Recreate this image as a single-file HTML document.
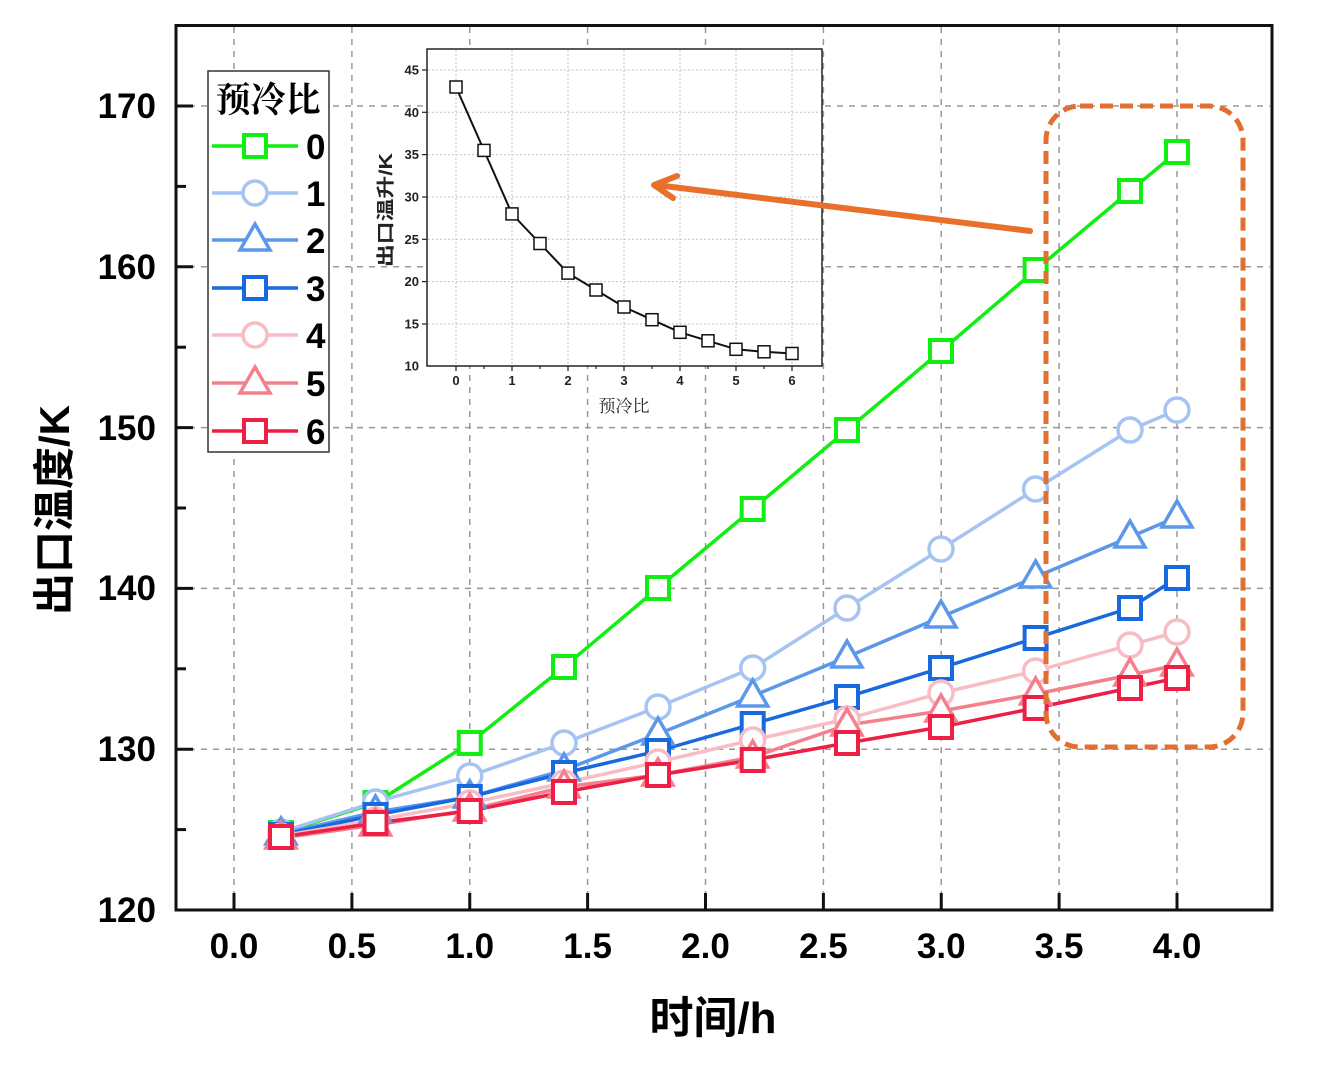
<!DOCTYPE html>
<html><head><meta charset="utf-8"><style>
html,body{margin:0;padding:0;background:#fff;}
svg{display:block;}
.b{font-family:"Liberation Sans","Noto Sans CJK SC",sans-serif;font-weight:bold;}
.s{font-family:"Liberation Serif","Noto Serif CJK SC",serif;}
</style></head><body>
<svg width="1330" height="1070" viewBox="0 0 1330 1070" xmlns="http://www.w3.org/2000/svg">
<rect width="1330" height="1070" fill="#fff"/>
<!-- grid -->
<g stroke="#999" stroke-width="1.5" stroke-dasharray="6 6" fill="none">
<line x1="234" y1="27" x2="234" y2="908"/>
<line x1="351.9" y1="27" x2="351.9" y2="908"/>
<line x1="469.75" y1="27" x2="469.75" y2="908"/>
<line x1="587.6" y1="27" x2="587.6" y2="908"/>
<line x1="705.5" y1="27" x2="705.5" y2="908"/>
<line x1="823.4" y1="27" x2="823.4" y2="908"/>
<line x1="941.25" y1="27" x2="941.25" y2="908"/>
<line x1="1059.1" y1="27" x2="1059.1" y2="908"/>
<line x1="1177" y1="27" x2="1177" y2="908"/>
<line x1="177" y1="749.2" x2="1270" y2="749.2"/>
<line x1="177" y1="588.4" x2="1270" y2="588.4"/>
<line x1="177" y1="427.6" x2="1270" y2="427.6"/>
<line x1="177" y1="266.8" x2="1270" y2="266.8"/>
<line x1="177" y1="106" x2="1270" y2="106"/>
</g>
<!-- axes frame -->
<rect x="176" y="25.5" width="1096" height="884.5" fill="none" stroke="#111" stroke-width="3"/>
<g stroke="#111" stroke-width="3">
<line x1="176" y1="910" x2="193" y2="910"/>
<line x1="176" y1="749.2" x2="193" y2="749.2"/>
<line x1="176" y1="588.4" x2="193" y2="588.4"/>
<line x1="176" y1="427.6" x2="193" y2="427.6"/>
<line x1="176" y1="266.8" x2="193" y2="266.8"/>
<line x1="176" y1="106" x2="193" y2="106"/>
<line x1="176" y1="829.6" x2="186" y2="829.6"/>
<line x1="176" y1="668.8" x2="186" y2="668.8"/>
<line x1="176" y1="508" x2="186" y2="508"/>
<line x1="176" y1="347.2" x2="186" y2="347.2"/>
<line x1="176" y1="186.4" x2="186" y2="186.4"/>
<line x1="234" y1="893" x2="234" y2="910"/>
<line x1="351.9" y1="893" x2="351.9" y2="910"/>
<line x1="469.75" y1="893" x2="469.75" y2="910"/>
<line x1="587.6" y1="893" x2="587.6" y2="910"/>
<line x1="705.5" y1="893" x2="705.5" y2="910"/>
<line x1="823.4" y1="893" x2="823.4" y2="910"/>
<line x1="941.25" y1="893" x2="941.25" y2="910"/>
<line x1="1059.1" y1="893" x2="1059.1" y2="910"/>
<line x1="1177" y1="893" x2="1177" y2="910"/>
</g>
<!-- y tick labels -->
<g class="b" font-size="35" text-anchor="end" fill="#000">
<text x="156" y="922">120</text>
<text x="156" y="761">130</text>
<text x="156" y="600">140</text>
<text x="156" y="440">150</text>
<text x="156" y="279">160</text>
<text x="156" y="118">170</text>
</g>
<g class="b" font-size="35" text-anchor="middle" fill="#000">
<text x="234" y="958">0.0</text>
<text x="351.9" y="958">0.5</text>
<text x="469.75" y="958">1.0</text>
<text x="587.6" y="958">1.5</text>
<text x="705.5" y="958">2.0</text>
<text x="823.4" y="958">2.5</text>
<text x="941.25" y="958">3.0</text>
<text x="1059.1" y="958">3.5</text>
<text x="1177" y="958">4.0</text>
</g>
<text class="b" font-size="44" x="713" y="1033" text-anchor="middle">时间/h</text>
<text class="b" font-size="42" transform="translate(69,510) rotate(-90)" text-anchor="middle">出口温度/K</text>

<!-- series lines -->
<g fill="none" stroke-width="3.5" stroke-linejoin="round">
<polyline stroke="#11ee11" points="281,833 375.5,803 469.75,743 564,667 658,588 752.7,509 847,430 941,351 1035.6,270 1130,191 1177,152"/>
<polyline stroke="#a6c4f2" points="281,832 375.5,802 469.75,776 564,743 658,707 752.7,668 847,608 941,549 1035.6,489 1130,430 1177,410"/>
<polyline stroke="#5c98ea" points="281,834 375.5,812 469.75,797 564,770 658,734 752.7,696 847,657 941,617 1035.6,577 1130,537 1177,517"/>
<polyline stroke="#1868de" points="281,835 375.5,815 469.75,797 564,773 658,751 752.7,724 847,697 941,668 1035.6,638 1130,608 1177,578"/>
<polyline stroke="#f8bcc4" points="281,836 375.5,820 469.75,803 564,783 658,762 752.7,740 847,719 941,693 1035.6,671 1130,645 1177,632"/>
<polyline stroke="#f4808e" points="281,838 375.5,825 469.75,810 564,787 658,775 752.7,757 847,725 941,711 1035.6,694 1130,675 1177,665"/>
<polyline stroke="#ee1f44" points="281,837 375.5,823 469.75,811 564,792 658,775 752.7,760 847,743 941,727 1035.6,708 1130,688 1177,678"/>
</g>
<!-- markers -->
<g fill="#fff" stroke="#11ee11" stroke-width="4">
<rect x="270" y="822" width="22" height="22"/><rect x="364.5" y="792" width="22" height="22"/><rect x="458.75" y="732" width="22" height="22"/><rect x="553" y="656" width="22" height="22"/><rect x="647" y="577" width="22" height="22"/><rect x="741.7" y="498" width="22" height="22"/><rect x="836" y="419" width="22" height="22"/><rect x="930" y="340" width="22" height="22"/><rect x="1024.6" y="259" width="22" height="22"/><rect x="1119" y="180" width="22" height="22"/><rect x="1166" y="141" width="22" height="22"/>
</g>
<g fill="#fff" stroke="#a6c4f2" stroke-width="3.5">
<circle cx="281" cy="832" r="12"/><circle cx="375.5" cy="802" r="12"/><circle cx="469.75" cy="776" r="12"/><circle cx="564" cy="743" r="12"/><circle cx="658" cy="707" r="12"/><circle cx="752.7" cy="668" r="12"/><circle cx="847" cy="608" r="12"/><circle cx="941" cy="549" r="12"/><circle cx="1035.6" cy="489" r="12"/><circle cx="1130" cy="430" r="12"/><circle cx="1177" cy="410" r="12"/>
</g>
<g fill="#fff" stroke="#5c98ea" stroke-width="3.5" stroke-linejoin="miter">
<polygon points="281,818 266,844 296,844"/><polygon points="375.5,796 360.5,822 390.5,822"/><polygon points="469.75,781 454.75,807 484.75,807"/><polygon points="564,754 549,780 579,780"/><polygon points="658,718 643,744 673,744"/><polygon points="752.7,680 737.7,706 767.7,706"/><polygon points="847,641 832,667 862,667"/><polygon points="941,601 926,627 956,627"/><polygon points="1035.6,561 1020.6,587 1050.6,587"/><polygon points="1130,521 1115,547 1145,547"/><polygon points="1177,501 1162,527 1192,527"/>
</g>
<g fill="#fff" stroke="#1868de" stroke-width="4">
<rect x="270" y="824" width="22" height="22"/><rect x="364.5" y="804" width="22" height="22"/><rect x="458.75" y="786" width="22" height="22"/><rect x="553" y="762" width="22" height="22"/><rect x="647" y="740" width="22" height="22"/><rect x="741.7" y="713" width="22" height="22"/><rect x="836" y="686" width="22" height="22"/><rect x="930" y="657" width="22" height="22"/><rect x="1024.6" y="627" width="22" height="22"/><rect x="1119" y="597" width="22" height="22"/><rect x="1166" y="567" width="22" height="22"/>
</g>
<g fill="#fff" stroke="#f8bcc4" stroke-width="3.5">
<circle cx="281" cy="836" r="12"/><circle cx="375.5" cy="820" r="12"/><circle cx="469.75" cy="803" r="12"/><circle cx="564" cy="783" r="12"/><circle cx="658" cy="762" r="12"/><circle cx="752.7" cy="740" r="12"/><circle cx="847" cy="719" r="12"/><circle cx="941" cy="693" r="12"/><circle cx="1035.6" cy="671" r="12"/><circle cx="1130" cy="645" r="12"/><circle cx="1177" cy="632" r="12"/>
</g>
<g fill="#fff" stroke="#f4808e" stroke-width="3.5">
<polygon points="281,822 266,848 296,848"/><polygon points="375.5,809 360.5,835 390.5,835"/><polygon points="469.75,794 454.75,820 484.75,820"/><polygon points="564,771 549,797 579,797"/><polygon points="658,759 643,785 673,785"/><polygon points="752.7,741 737.7,767 767.7,767"/><polygon points="847,709 832,735 862,735"/><polygon points="941,695 926,721 956,721"/><polygon points="1035.6,678 1020.6,704 1050.6,704"/><polygon points="1130,659 1115,685 1145,685"/><polygon points="1177,649 1162,675 1192,675"/>
</g>
<g fill="#fff" stroke="#ee1f44" stroke-width="4">
<rect x="270" y="826" width="22" height="22"/><rect x="364.5" y="812" width="22" height="22"/><rect x="458.75" y="800" width="22" height="22"/><rect x="553" y="781" width="22" height="22"/><rect x="647" y="764" width="22" height="22"/><rect x="741.7" y="749" width="22" height="22"/><rect x="836" y="732" width="22" height="22"/><rect x="930" y="716" width="22" height="22"/><rect x="1024.6" y="697" width="22" height="22"/><rect x="1119" y="677" width="22" height="22"/><rect x="1166" y="667" width="22" height="22"/>
</g>

<!-- dashed rounded box -->
<rect x="1046" y="106" width="197" height="641" rx="34" ry="34" fill="none" stroke="#e07030" stroke-width="5" stroke-dasharray="13 7"/>

<!-- legend -->
<rect x="208" y="71" width="121" height="381" fill="#fff" stroke="#333" stroke-width="1.5"/>
<text class="s" font-size="35" font-weight="bold" x="268" y="112" text-anchor="middle">预冷比</text>
<g stroke-width="3.5" fill="#fff">
<line x1="212" y1="146" x2="298" y2="146" stroke="#11ee11"/><rect x="244" y="135" width="22" height="22" stroke="#11ee11" stroke-width="4"/>
<line x1="212" y1="193" x2="298" y2="193" stroke="#a6c4f2"/><circle cx="255" cy="193" r="12" stroke="#a6c4f2"/>
<line x1="212" y1="240" x2="298" y2="240" stroke="#5c98ea"/><polygon points="255,224 240,250 270,250" stroke="#5c98ea"/>
<line x1="212" y1="288" x2="298" y2="288" stroke="#1868de"/><rect x="244" y="277" width="22" height="22" stroke="#1868de" stroke-width="4"/>
<line x1="212" y1="335" x2="298" y2="335" stroke="#f8bcc4"/><circle cx="255" cy="335" r="12" stroke="#f8bcc4"/>
<line x1="212" y1="383" x2="298" y2="383" stroke="#f4808e"/><polygon points="255,367 240,393 270,393" stroke="#f4808e"/>
<line x1="212" y1="431" x2="298" y2="431" stroke="#ee1f44"/><rect x="244" y="420" width="22" height="22" stroke="#ee1f44" stroke-width="4"/>
</g>
<g class="b" font-size="35" fill="#000">
<text x="306" y="159">0</text><text x="306" y="206">1</text><text x="306" y="253">2</text><text x="306" y="301">3</text><text x="306" y="348">4</text><text x="306" y="396">5</text><text x="306" y="444">6</text>
</g>

<!-- inset -->
<rect x="427" y="49" width="395" height="317" fill="#fff"/>
<g stroke="#c4c4c4" stroke-width="1" stroke-dasharray="2 2" fill="none">
<line x1="456" y1="50" x2="456" y2="365"/><line x1="512" y1="50" x2="512" y2="365"/><line x1="568" y1="50" x2="568" y2="365"/><line x1="624" y1="50" x2="624" y2="365"/><line x1="680" y1="50" x2="680" y2="365"/><line x1="736" y1="50" x2="736" y2="365"/><line x1="792" y1="50" x2="792" y2="365"/>
<line x1="428" y1="70" x2="821" y2="70"/><line x1="428" y1="112.3" x2="821" y2="112.3"/><line x1="428" y1="154.6" x2="821" y2="154.6"/><line x1="428" y1="197" x2="821" y2="197"/><line x1="428" y1="239.3" x2="821" y2="239.3"/><line x1="428" y1="281.6" x2="821" y2="281.6"/><line x1="428" y1="324" x2="821" y2="324"/>
</g>
<rect x="427" y="49" width="395" height="317" fill="none" stroke="#222" stroke-width="1.5"/>
<g stroke="#222" stroke-width="1.2">
<line x1="456" y1="366" x2="456" y2="371"/><line x1="484" y1="366" x2="484" y2="369"/><line x1="512" y1="366" x2="512" y2="371"/><line x1="540" y1="366" x2="540" y2="369"/><line x1="568" y1="366" x2="568" y2="371"/><line x1="596" y1="366" x2="596" y2="369"/><line x1="624" y1="366" x2="624" y2="371"/><line x1="652" y1="366" x2="652" y2="369"/><line x1="680" y1="366" x2="680" y2="371"/><line x1="708" y1="366" x2="708" y2="369"/><line x1="736" y1="366" x2="736" y2="371"/><line x1="764" y1="366" x2="764" y2="369"/><line x1="792" y1="366" x2="792" y2="371"/>
<line x1="422" y1="70" x2="427" y2="70"/><line x1="422" y1="112.3" x2="427" y2="112.3"/><line x1="422" y1="154.6" x2="427" y2="154.6"/><line x1="422" y1="197" x2="427" y2="197"/><line x1="422" y1="239.3" x2="427" y2="239.3"/><line x1="422" y1="281.6" x2="427" y2="281.6"/><line x1="422" y1="324" x2="427" y2="324"/>
</g>
<g class="b" font-size="13" fill="#222" text-anchor="end">
<text x="419" y="74.5">45</text><text x="419" y="116.8">40</text><text x="419" y="159.1">35</text><text x="419" y="201.5">30</text><text x="419" y="243.8">25</text><text x="419" y="286.1">20</text><text x="419" y="328.5">15</text><text x="419" y="370.5">10</text>
</g>
<g class="b" font-size="13" fill="#222" text-anchor="middle">
<text x="456" y="385">0</text><text x="512" y="385">1</text><text x="568" y="385">2</text><text x="624" y="385">3</text><text x="680" y="385">4</text><text x="736" y="385">5</text><text x="792" y="385">6</text>
</g>
<text class="b" font-size="18" fill="#222" transform="translate(392,210) rotate(-90)" text-anchor="middle" textLength="114" lengthAdjust="spacingAndGlyphs">出口温升/K</text>
<text class="s" font-size="17" fill="#222" x="624" y="412" text-anchor="middle">预冷比</text>
<polyline fill="none" stroke="#111" stroke-width="2" points="456,87 484,150.4 512,213.9 540,243.5 568,273.1 596,290 624,307 652,319.7 680,332.3 708,340.8 736,349.3 764,351.8 792,353.5"/>
<g fill="#fff" stroke="#111" stroke-width="1.5">
<rect x="450" y="81" width="12" height="12"/><rect x="478" y="144.4" width="12" height="12"/><rect x="506" y="207.9" width="12" height="12"/><rect x="534" y="237.5" width="12" height="12"/><rect x="562" y="267.1" width="12" height="12"/><rect x="590" y="284" width="12" height="12"/><rect x="618" y="301" width="12" height="12"/><rect x="646" y="313.7" width="12" height="12"/><rect x="674" y="326.3" width="12" height="12"/><rect x="702" y="334.8" width="12" height="12"/><rect x="730" y="343.3" width="12" height="12"/><rect x="758" y="345.8" width="12" height="12"/><rect x="786" y="347.5" width="12" height="12"/>
</g>

<!-- arrow -->
<g stroke="#e8702a" stroke-width="6" fill="none" stroke-linecap="round" stroke-linejoin="round">
<line x1="1030" y1="231" x2="656" y2="185"/>
<polyline points="677,176 654,185 673,198"/>
</g>
</svg>
</body></html>
